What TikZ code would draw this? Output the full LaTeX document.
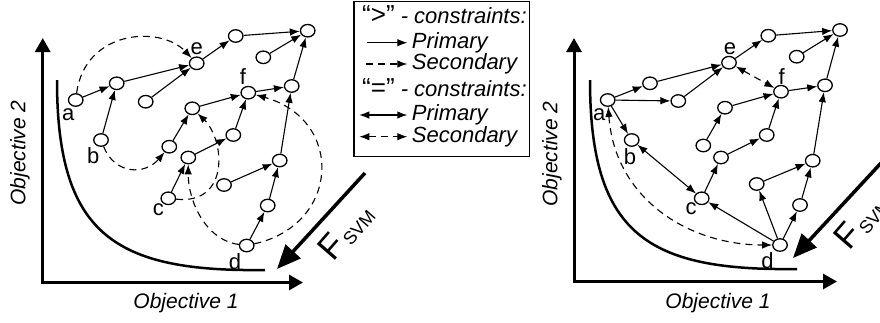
\documentclass[tikz,border=0pt]{standalone}
\usepackage{fontspec}
\setmainfont{Liberation Sans}
\usetikzlibrary{arrows.meta,shapes.geometric}

\begin{document}
\begin{tikzpicture}[x=1pt,y=-1pt,
          sol/.style={draw,ellipse,fill=white,minimum width=14.5pt,minimum height=12.5pt,inner sep=0pt,line width=1.3pt},
          lbl/.style={font=\fontsize{22}{22}\selectfont,inner sep=0pt},
          pri/.style={line width=1.1pt,-{Latex[length=10pt,width=7.5pt]}},
          sec/.style={pri,dash pattern=on 7pt off 5pt},
          dpri/.style={line width=1.1pt,{Latex[length=10pt,width=7.5pt]}-{Latex[length=10pt,width=7.5pt]}},
          dsec/.style={dpri,dash pattern=on 7pt off 5pt},
          axis/.style={line width=3pt,{Triangle[length=14pt,width=15pt]}-{Triangle[length=14pt,width=15pt]}},
          front/.style={line width=2.5pt},
          force/.style={line width=3.5pt,-{Triangle[length=24pt,width=20pt]}},
          axlbl/.style={font=\fontsize{21}{21}\selectfont\itshape,inner sep=0pt},
          leg/.style={font=\fontsize{22}{22}\selectfont\itshape,anchor=west,inner sep=0pt},
          fsvm/.style={rotate=49,inner sep=0pt}]
        \useasboundingbox (0,0) rectangle (880,322);

        % left panel: axes and front
        \coordinate (ytip) at (42.7,38);
        \coordinate (xtip) at (303,282.5);
        \draw[axis] (ytip) |- (xtip);
        \draw[front] (57,80) .. controls (57,235) and (115,272) .. (265,270);
        \node[axlbl] (ox) at (186,303) {Objective 1};
        \node[axlbl,rotate=90] (oy) at (20,153) {Objective 2};

        \node[sol] (a)   at (75.7,100)  {};
        \node[sol] (p1)  at (116.7,83.3) {};
        \node[sol] (e)   at (196.7,63.3) {};
        \node[sol] (p2)  at (235.7,36)  {};
        \node[sol] (p3)  at (307.7,30.7) {};
        \node[sol] (p4)  at (263.3,57.3) {};
        \node[sol] (p5)  at (145.7,101.7) {};
        \node[sol] (b)   at (101,140)   {};
        \node[sol] (p6)  at (169.3,146.7) {};
        \node[sol] (p7)  at (192.3,108.3) {};
        \node[sol] (f)   at (248.3,92.7) {};
        \node[sol] (p8)  at (291.7,86)  {};
        \node[sol] (p9)  at (233.3,135) {};
        \node[sol] (p10) at (188.3,157.5) {};
        \node[sol] (c)   at (168.3,198.3) {};
        \node[sol] (p11) at (224,185)   {};
        \node[sol] (p12) at (279.7,160.5) {};
        \node[sol] (p13) at (267.7,205.5) {};
        \node[sol] (d)   at (246.7,245.5) {};

        \node[lbl] (la) at (68.3,115)  {a};
        \node[lbl] (lb) at (93.3,156)  {b};
        \node[lbl] (lc) at (158.3,210) {c};
        \node[lbl] (ld) at (235,261.7) {d};
        \node[lbl] (le) at (196.7,48.3) {e};
        \node[lbl] (lf) at (243,76.7)  {f};

        \draw[pri] (a)--(p1);
        \draw[pri] (b)--(p1);
        \draw[pri] (p1)--(e);
        \draw[pri] (p5)--(e);
        \draw[pri] (e)--(p2);
        \draw[pri] (p2)--(p3);
        \draw[pri] (p4)--(p3);
        \draw[pri] (p8)--(p3);
        \draw[pri] (f)--(p8);
        \draw[pri] (p7)--(f);
        \draw[pri] (p9)--(f);
        \draw[pri] (p6)--(p7);
        \draw[pri] (p10)--(p9);
        \draw[pri] (c)--(p10);
        \draw[pri] (p11)--(p12);
        \draw[pri] (p12)--(p8);
        \draw[pri] (p13)--(p12);
        \draw[pri] (d)--(p13);

        \draw[sec] (a) .. controls (85,30) and (160,25) .. (e);
        \draw[sec] (b) .. controls (115,175) and (145,175) .. (p6);
        \draw[sec] (c) .. controls (230,205) and (225,140) .. (p7);
        \draw[sec] (d) .. controls (205,240) and (188,200) .. (p10);
        \draw[sec] (d) .. controls (340,225) and (345,120) .. (f);

        \coordinate (fs1) at (365,173);
        \coordinate (ft1) at (277,269);
        \draw[force] (fs1)--(ft1);
        \node[fsvm] (fl1) at (346,232) {\fontsize{35}{35}\selectfont F\kern2pt\raisebox{-3pt}{\fontsize{18}{18}\selectfont SVM}};

        % legend
        \draw[line width=1.2pt] (354,1.5) rectangle (529.3,156.7);
        \node[leg] (l1) at (362,15)    {{\upshape\fontsize{26}{26}\selectfont “>”} - constraints:};
        \node[leg] (l2) at (411.7,42.7) {Primary};
        \node[leg] (l3) at (411.7,64)  {Secondary};
        \node[leg] (l4) at (362,87.3)  {{\upshape\fontsize{26}{26}\selectfont “=”} - constraints:};
        \node[leg] (l5) at (411.7,115) {Primary};
        \node[leg] (l6) at (411.7,136.7) {Secondary};
        \coordinate (s2) at (366.7,42.7);  \coordinate (t2) at (407.3,42.7);
        \coordinate (s3) at (366,64);      \coordinate (t3) at (407.3,64);
        \coordinate (s5) at (359.3,115);   \coordinate (t5) at (407.3,115);
        \coordinate (s6) at (359.3,136.7); \coordinate (t6) at (407.3,136.7);
        \draw[pri]  (s2)--(t2);
        \draw[sec]  (s3)--(t3);
        \draw[dpri] (s5)--(t5);
        \draw[dsec] (s6)--(t6);

        % right panel: axes and front
        \coordinate (rytip) at (574,38);
        \coordinate (rxtip) at (837,281.5);
        \draw[axis] (rytip) |- (rxtip);
        \draw[front] (590,80) .. controls (590,235) and (648,271) .. (797,269);
        \node[axlbl] (rox) at (718,303) {Objective 1};
        \node[axlbl,rotate=90] (roy) at (552,154) {Objective 2};

        \node[sol] (ra)   at (607.7,100) {};
        \node[sol] (rp1)  at (650,83.3)  {};
        \node[sol] (rp2)  at (678.3,101) {};
        \node[sol] (re)   at (729,62.7)  {};
        \node[sol] (rp3)  at (768.3,35.7) {};
        \node[sol] (rp4)  at (840,30)    {};
        \node[sol] (rp5)  at (796.7,56.7) {};
        \node[sol] (rf)   at (781,91.7)  {};
        \node[sol] (rp6)  at (825,85.3)  {};
        \node[sol] (rp7)  at (725,107.7) {};
        \node[sol] (rp8)  at (703.3,145.5) {};
        \node[sol] (rp9)  at (766.7,135) {};
        \node[sol] (rp10) at (721,157.5) {};
        \node[sol] (rb)   at (631.7,140) {};
        \node[sol] (rc)   at (701.7,198.3) {};
        \node[sol] (rp11) at (756.7,184) {};
        \node[sol] (rp13) at (812.7,160.7) {};
        \node[sol] (rp12) at (800,205)   {};
        \node[sol] (rd)   at (780,245)   {};

        \node[lbl] (rla) at (599.3,115) {a};
        \node[lbl] (rlb) at (630,157)   {b};
        \node[lbl] (rlc) at (691,209)   {c};
        \node[lbl] (rld) at (767.5,260.5) {d};
        \node[lbl] (rle) at (730,48.3)  {e};
        \node[lbl] (rlf) at (781.7,76.7) {f};

        \draw[pri] (ra)--(rp1);
        \draw[pri] (ra)--(rp2);
        \draw[pri] (rp1)--(re);
        \draw[pri] (rp2)--(re);
        \draw[pri] (re)--(rp3);
        \draw[pri] (rp3)--(rp4);
        \draw[pri] (rp5)--(rp4);
        \draw[pri] (rp6)--(rp4);
        \draw[pri] (rf)--(rp6);
        \draw[pri] (rp7)--(rf);
        \draw[pri] (rp9)--(rf);
        \draw[pri] (rp8)--(rp7);
        \draw[pri] (rp10)--(rp9);
        \draw[pri] (rc)--(rp10);
        \draw[pri] (ra)--(rb);
        \draw[dpri] (rb)--(rc);
        \draw[pri] (rd)--(rc);
        \draw[pri] (rd)--(rp11);
        \draw[pri] (rd)--(rp12);
        \draw[pri] (rp12)--(rp13);
        \draw[pri] (rp11)--(rp13);
        \draw[pri] (rp13)--(rp6);

        \draw[dsec] (re)--(rf);
        \draw[dsec] (ra) .. controls (615,200) and (690,245) .. (rd);

        \coordinate (fs2) at (881,163);
        \coordinate (ft2) at (793,258);
        \draw[force] (fs2)--(ft2);
        \node[fsvm] (fl2) at (862,221) {\fontsize{35}{35}\selectfont F\kern2pt\raisebox{-3pt}{\fontsize{18}{18}\selectfont SVM}};
      \end{tikzpicture}
\end{document}
